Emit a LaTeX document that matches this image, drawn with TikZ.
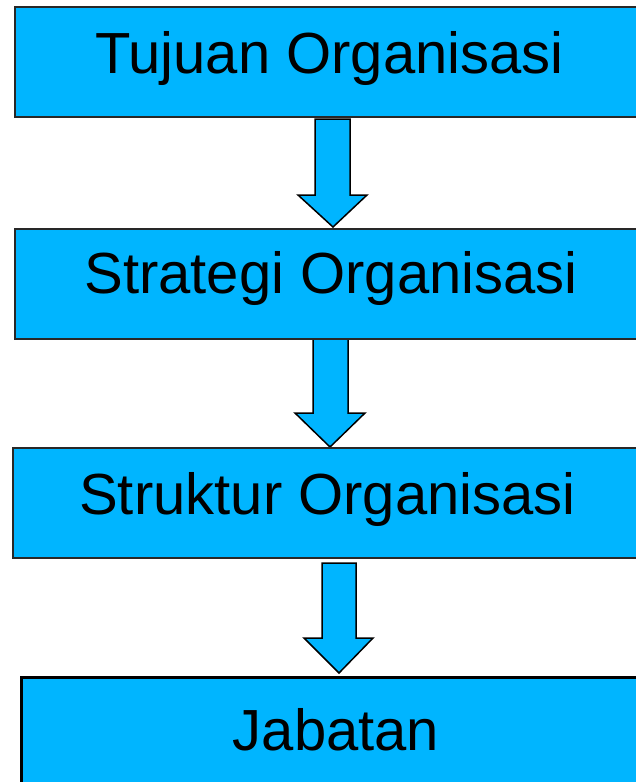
\documentclass[tikz,border=0pt]{standalone}
\usepackage{fontspec}
\setmainfont{Liberation Sans}
\definecolor{boxblue}{RGB}{0,181,255}
\definecolor{edgegray}{RGB}{40,40,40}
\begin{document}
\begin{tikzpicture}[x=1pt,y=-1pt,
  box/.style={draw=edgegray,line width=1.6pt,fill=boxblue,anchor=north west,inner sep=0pt},
  lastbox/.style={draw=black,line width=3pt,fill=boxblue,anchor=north west,inner sep=0pt},
  label/.style={anchor=base,font=\fontsize{58}{61}\selectfont,inner sep=0pt},
  blockarrow/.style={draw=black,line width=1.5pt,fill=boxblue,line join=miter}]
\useasboundingbox (0,0) rectangle (636,782);
\clip (0,0) rectangle (636,782);
% block arrows
\draw[blockarrow] (315,119) -- (350,119) -- (350,195) -- (367,195) -- (333,227) -- (298,195) -- (315,195) -- cycle;
\draw[blockarrow] (313,336) -- (348,336) -- (348,413) -- (365,413) -- (330,447) -- (295,413) -- (313,413) -- cycle;
\draw[blockarrow] (322,563) -- (356,563) -- (356,638) -- (373,638) -- (339,673) -- (304,638) -- (322,638) -- cycle;
% boxes
\node[box,minimum width=660pt,minimum height=110pt] (b1) at (14,6) {};
\node[box,minimum width=660pt,minimum height=110pt] (b2) at (14,228) {};
\node[box,minimum width=660pt,minimum height=110pt] (b3) at (12,447) {};
\node[lastbox,minimum width=660pt,minimum height=140pt] (b4) at (20,676) {};
% labels
\node[label] (t1) at (329.5,73) {Tujuan Organisasi};
\node[label] (t2) at (331,293) {Strategi Organisasi};
\node[label] (t3) at (327.5,514) {Struktur Organisasi};
\node[label] (t4) at (336,750) {Jabatan};
\end{tikzpicture}
\end{document}
